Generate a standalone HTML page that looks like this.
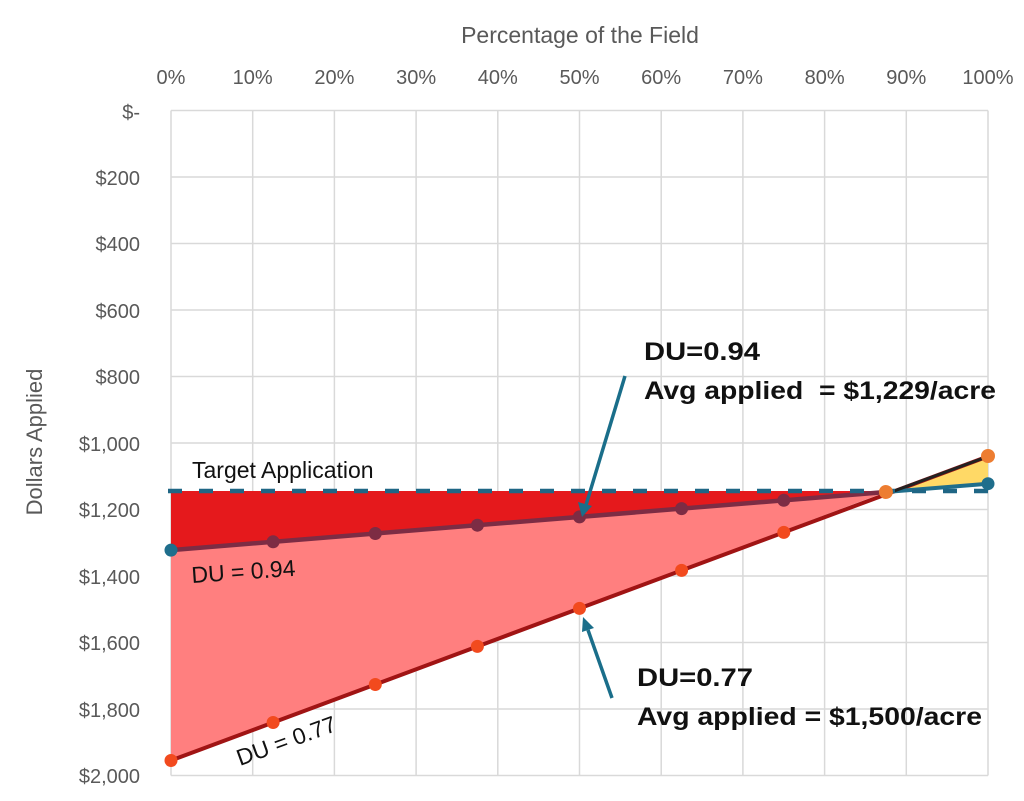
<!DOCTYPE html>
<html><head><meta charset="utf-8"><style>
html,body{margin:0;padding:0;background:#fff;}
svg{display:block;font-family:"Liberation Sans",sans-serif;}
</style></head><body>
<svg width="1024" height="801" viewBox="0 0 1024 801">
<rect width="1024" height="801" fill="#fff"/>
<g stroke="#d9d9d9" stroke-width="1.5">
<line x1="171" y1="110.5" x2="171" y2="775.5"/>
<line x1="252.7" y1="110.5" x2="252.7" y2="775.5"/>
<line x1="334.4" y1="110.5" x2="334.4" y2="775.5"/>
<line x1="416.1" y1="110.5" x2="416.1" y2="775.5"/>
<line x1="497.8" y1="110.5" x2="497.8" y2="775.5"/>
<line x1="579.5" y1="110.5" x2="579.5" y2="775.5"/>
<line x1="661.2" y1="110.5" x2="661.2" y2="775.5"/>
<line x1="742.9" y1="110.5" x2="742.9" y2="775.5"/>
<line x1="824.6" y1="110.5" x2="824.6" y2="775.5"/>
<line x1="906.3" y1="110.5" x2="906.3" y2="775.5"/>
<line x1="988" y1="110.5" x2="988" y2="775.5"/>
<line x1="171" y1="110.5" x2="988" y2="110.5"/>
<line x1="171" y1="177" x2="988" y2="177"/>
<line x1="171" y1="243.5" x2="988" y2="243.5"/>
<line x1="171" y1="310" x2="988" y2="310"/>
<line x1="171" y1="376.5" x2="988" y2="376.5"/>
<line x1="171" y1="443" x2="988" y2="443"/>
<line x1="171" y1="509.5" x2="988" y2="509.5"/>
<line x1="171" y1="576" x2="988" y2="576"/>
<line x1="171" y1="642.5" x2="988" y2="642.5"/>
<line x1="171" y1="709" x2="988" y2="709"/>
<line x1="171" y1="775.5" x2="988" y2="775.5"/>
</g>
<polygon points="171,550.1 886,492 171,760.5" fill="#ff7f7f"/>
<polygon points="171,491 886,491 886,492 171,550.1" fill="#e5191c"/>
<polygon points="890,491 988,456.4 988,484" fill="#ffd966"/>
<polyline points="171,760.5 988,456.4" fill="none" stroke="#a01414" stroke-width="4"/>
<polyline points="171,550.1 886,492" fill="none" stroke="#7d2c44" stroke-width="4.5"/>
<line x1="886" y1="492" x2="988" y2="483.7" stroke="#1f6e8c" stroke-width="4"/>
<line x1="886" y1="494" x2="988" y2="456.4" stroke="#222" stroke-width="3"/>
<line x1="168" y1="491" x2="995" y2="491" stroke="#1f6685" stroke-width="4.5" stroke-dasharray="14,17"/>
<g fill="#7d2c44">
<circle cx="273.1" cy="541.8" r="6.5"/><circle cx="375.3" cy="533.5" r="6.5"/><circle cx="477.4" cy="525.2" r="6.5"/>
<circle cx="579.5" cy="516.9" r="6.5"/><circle cx="681.6" cy="508.6" r="6.5"/><circle cx="783.8" cy="500.3" r="6.5"/>
</g>
<circle cx="171" cy="550.1" r="6.5" fill="#1f6e8c"/><circle cx="988" cy="483.7" r="6.5" fill="#1f6e8c"/>
<g fill="#f24a1e">
<circle cx="273.1" cy="722.5" r="6.5"/><circle cx="375.3" cy="684.5" r="6.5"/><circle cx="477.4" cy="646.4" r="6.5"/>
<circle cx="579.5" cy="608.4" r="6.5"/><circle cx="681.6" cy="570.4" r="6.5"/><circle cx="783.8" cy="532.4" r="6.5"/>
<circle cx="171" cy="760.5" r="6.5"/>
</g>
<circle cx="885.9" cy="492" r="7" fill="#ed7d31"/><circle cx="988" cy="456" r="7" fill="#ed7d31"/>
<g stroke="#1a6e8a" stroke-width="3.5" fill="#1a6e8a">
<line x1="625" y1="376" x2="586" y2="505"/>
<polygon points="582,517 578,502 592,506" stroke="none"/>
<line x1="612" y1="698" x2="588" y2="630"/>
<polygon points="583,617 594,628 582,632" stroke="none"/>
</g>
<g fill="#595959" font-size="20">
<text x="580" y="43" text-anchor="middle" font-size="23">Percentage of the Field</text>
<text x="171" y="84" text-anchor="middle">0%</text>
<text x="252.7" y="84" text-anchor="middle">10%</text>
<text x="334.4" y="84" text-anchor="middle">20%</text>
<text x="416.1" y="84" text-anchor="middle">30%</text>
<text x="497.8" y="84" text-anchor="middle">40%</text>
<text x="579.5" y="84" text-anchor="middle">50%</text>
<text x="661.2" y="84" text-anchor="middle">60%</text>
<text x="742.9" y="84" text-anchor="middle">70%</text>
<text x="824.6" y="84" text-anchor="middle">80%</text>
<text x="906.3" y="84" text-anchor="middle">90%</text>
<text x="988" y="84" text-anchor="middle">100%</text>
<g text-anchor="end">
<text x="140" y="119">$-</text>
<text x="140" y="185">$200</text>
<text x="140" y="251">$400</text>
<text x="140" y="318">$600</text>
<text x="140" y="384">$800</text>
<text x="140" y="451">$1,000</text>
<text x="140" y="517">$1,200</text>
<text x="140" y="584">$1,400</text>
<text x="140" y="650">$1,600</text>
<text x="140" y="717">$1,800</text>
<text x="140" y="783">$2,000</text>
</g>
<text transform="translate(42,442) rotate(-90)" text-anchor="middle" font-size="22">Dollars Applied</text>
</g>
<g fill="#111">
<text x="192" y="478" font-size="23">Target Application</text>
<text x="192" y="583" font-size="23" transform="rotate(-4 192 583)">DU = 0.94</text>
<text x="240" y="766" font-size="23" transform="rotate(-20 240 766)">DU = 0.77</text>
<text x="644" y="360" font-size="25" font-weight="bold" textLength="116" lengthAdjust="spacingAndGlyphs">DU=0.94</text>
<text x="644" y="399" font-size="25" font-weight="bold" textLength="352" lengthAdjust="spacingAndGlyphs" xml:space="preserve">Avg applied  = $1,229/acre</text>
<text x="637" y="686" font-size="25" font-weight="bold" textLength="116" lengthAdjust="spacingAndGlyphs">DU=0.77</text>
<text x="637" y="725" font-size="25" font-weight="bold" textLength="345" lengthAdjust="spacingAndGlyphs">Avg applied = $1,500/acre</text>
</g>
</svg>
</body></html>
